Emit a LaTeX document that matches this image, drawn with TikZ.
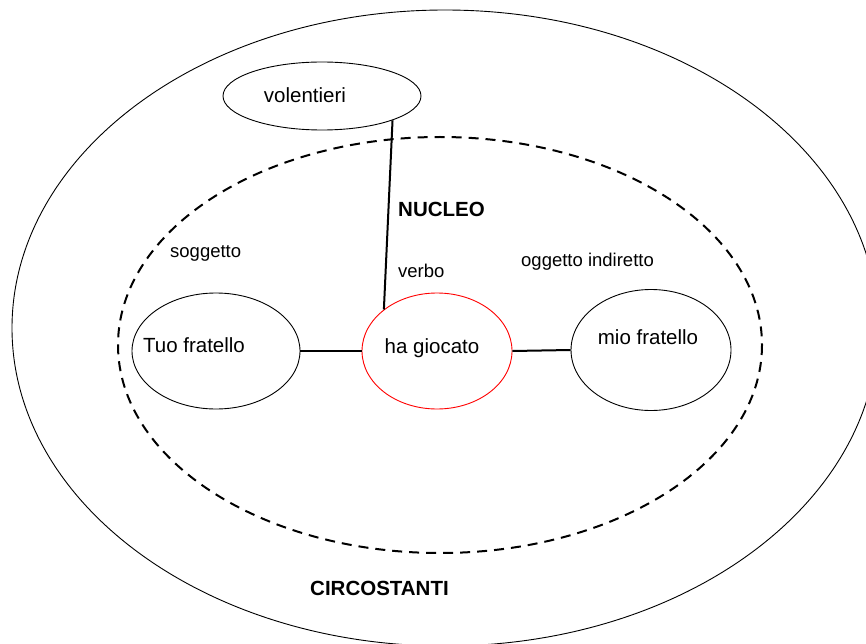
\documentclass[tikz,border=0pt]{standalone}
\usepackage{fontspec}
\setmainfont{Liberation Sans}
\usetikzlibrary{shapes.geometric}

\begin{document}
\begin{tikzpicture}[x=1pt, y=-1pt,
    bubble/.style={draw, ellipse, line width=0.9pt, inner sep=0pt},
    link/.style={line width=2pt},
    big/.style={font=\fontsize{20.5}{24}\selectfont},
    small/.style={font=\fontsize{18.5}{22}\selectfont},
    tag/.style={anchor=base west, inner sep=0pt}]
  \useasboundingbox (0,0) rectangle (866,644);
  \clip (0,0) rectangle (866,644);

  \draw[line width=0.9pt] (445,328) ellipse [x radius=433, y radius=318];
  \draw[line width=2pt, dash pattern=on 10pt off 7pt] (440,345) ellipse [x radius=322, y radius=208];

  \node[bubble, minimum width=198pt, minimum height=68pt,
        label={[big, xshift=-17pt, yshift=0.5pt]center:volentieri}] (vol) at (322,96) {};
  \node[bubble, minimum width=168pt, minimum height=116pt,
        label={[big, xshift=-22pt, yshift=5.5pt]center:Tuo fratello}] (tuo) at (216,351) {};
  \node[bubble, red, minimum width=150pt, minimum height=116pt,
        label={[big, xshift=-5pt, yshift=3.3pt]center:ha giocato}] (ha) at (437,351) {};
  \node[bubble, minimum width=160pt, minimum height=121pt,
        label={[big, xshift=-3pt, yshift=12.5pt]center:mio fratello}] (mio) at (651,350) {};

  \draw[link] (tuo.east) -- (ha.west);
  \draw[link] (ha.east) -- (mio.west);
  \draw[link] (vol.-19) -- (ha.142);

  \node[tag, big] (nucleo) at (398,217) {\bfseries NUCLEO};
  \node[tag, small] (sogg) at (170,257) {soggetto};
  \node[tag, small] (verbo) at (398,277) {verbo};
  \node[tag, small] (ogg) at (521,266) {oggetto indiretto};
  \node[tag, big] (circ) at (310,595) {\bfseries CIRCOSTANTI};
\end{tikzpicture}
\end{document}
